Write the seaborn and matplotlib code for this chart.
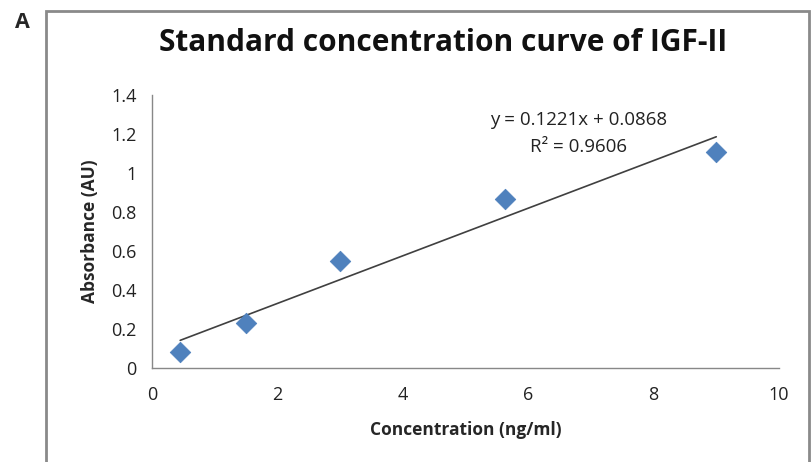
import numpy as np
import matplotlib
matplotlib.use("Agg")
import matplotlib.pyplot as plt
import seaborn as sns
import pandas as pd
from matplotlib.patches import Rectangle

# Data
concentration = [0.45, 1.5, 3.0, 5.625, 9.0]
absorbance = [0.08, 0.23, 0.55, 0.865, 1.11]
slope = 0.1221
intercept = 0.0868
r_squared = 0.9606
x_ticks = [0, 2, 4, 6, 8, 10]
y_ticks = [0, 0.2, 0.4, 0.6, 0.8, 1.0, 1.2, 1.4]
y_tick_labels = ["0", "0.2", "0.4", "0.6", "0.8", "1", "1.2", "1.4"]

sns.set_style("white")
plt.rcParams['font.family'] = ['Open Sans', 'DejaVu Sans']

df = pd.DataFrame({"Concentration": concentration, "Absorbance": absorbance})

fig = plt.figure(figsize=(8.11, 4.62), dpi=100)
ax = fig.add_axes([0.1874, 0.2035, 0.7731, 0.5909])

# trendline
xl = np.array([min(concentration), max(concentration)])
ax.plot(xl, slope * xl + intercept, color="#404040", lw=1.2, zorder=2)

sns.scatterplot(data=df, x="Concentration", y="Absorbance", marker="D", s=110,
                color="#4F81BD", edgecolor="#4A7EBB", linewidth=0.5, ax=ax, zorder=3)

ax.set_xlim(0, 10)
ax.set_ylim(0, 1.4)
ax.set_xticks(x_ticks)
ax.set_xticklabels([str(t) for t in x_ticks])
ax.set_yticks(y_ticks)
ax.set_yticklabels(y_tick_labels)

for s in ["top", "right"]:
    ax.spines[s].set_visible(False)
for s in ["left", "bottom"]:
    ax.spines[s].set_color("#888888")
    ax.spines[s].set_linewidth(1.0)

ax.tick_params(axis="both", which="major", direction="out", length=5, width=1,
               color="#888888", labelsize=13, labelcolor="#222222", pad=6)
ax.tick_params(axis="x", pad=8)

ax.set_xlabel("Concentration (ng/ml)", fontsize=12.5, fontweight="bold", labelpad=12)
ax.set_ylabel("Absorbance (AU)", fontsize=12.5, fontweight="bold", labelpad=9)

fig.text(0.547, 0.908, "Standard concentration curve of IGF-II", ha="center", va="center",
         fontsize=21.5, fontweight="bold", color="#111111")

ax.text(6.8, 1.27, f"y = {slope}x + {intercept}", ha="center", va="center", fontsize=13.5, color="#222222")
ax.text(6.8, 1.135, f"R² = {r_squared}", ha="center", va="center", fontsize=13.5, color="#222222")

fig.text(0.018, 0.952, "A", ha="left", va="center", fontsize=15.5, fontweight="bold")

rect = Rectangle((46 / 811, -0.1), (809 - 46) / 811, 1.1 - 11 / 462, transform=fig.transFigure,
                 fill=False, edgecolor="#8a8a8a", lw=2)
fig.patches.append(rect)

fig.savefig("out.png", dpi=100)
